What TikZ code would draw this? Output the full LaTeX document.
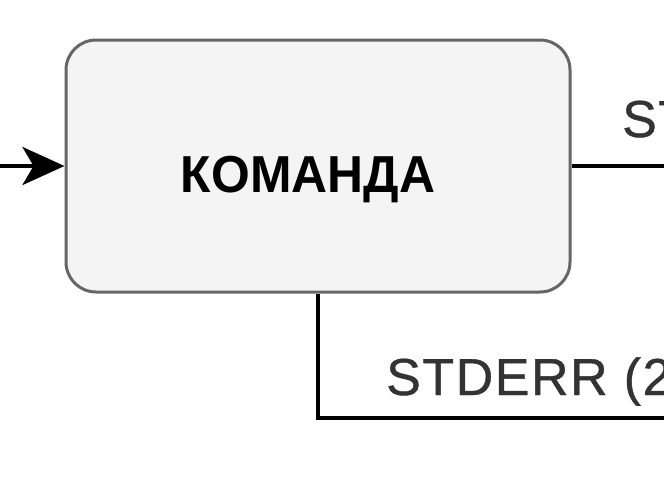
\documentclass[tikz,border=0pt]{standalone}
\usepackage{fontspec}
\setmainfont{Liberation Sans}
\newfontfamily\labfont[LetterSpace=3,FakeBold=0.8]{Liberation Sans}
\usetikzlibrary{arrows.meta}
\definecolor{boxfill}{HTML}{F4F4F4}
\definecolor{boxline}{HTML}{666666}
\definecolor{lbl}{HTML}{333333}
\tikzset{
 cmdbox/.style={draw=boxline, fill=boxfill, line width=3pt, rounded corners=30pt, minimum width=504pt, minimum height=252pt, inner sep=0pt},
 cmdtext/.style={font=\fontsize{52}{52}\selectfont\bfseries, inner sep=0pt, anchor=base},
 wire/.style={line width=4pt, draw=black},
 lab/.style={text=lbl, font=\fontsize{52}{52}\selectfont\labfont, anchor=base west, inner sep=0pt},
}
\begin{document}
\begin{tikzpicture}[x=1pt,y=-1pt]
\useasboundingbox (0,0) rectangle (664,482);
\clip (0,0) rectangle (664,482);
\node[cmdbox] (cmd) at (318,166) {};
\node[cmdtext] (cmdlabel) at (308,192) {\scalebox{0.958}[1]{КОМАНДА}};
\coordinate (in) at (0,166);
\coordinate (out) at (680,166);
\coordinate (errout) at (680,418);
\draw[wire, -{Stealth[length=42pt,width=38pt,inset=11pt]}] (in) -- (cmd.west);
\draw[wire] (cmd.east) -- (out);
\draw[wire] (cmd.south) |- (errout);
\node[lab] (stdout) at (622,137) {ST};
\node[lab] (stderr) at (386,395) {STDERR (2};
\end{tikzpicture}
\end{document}
